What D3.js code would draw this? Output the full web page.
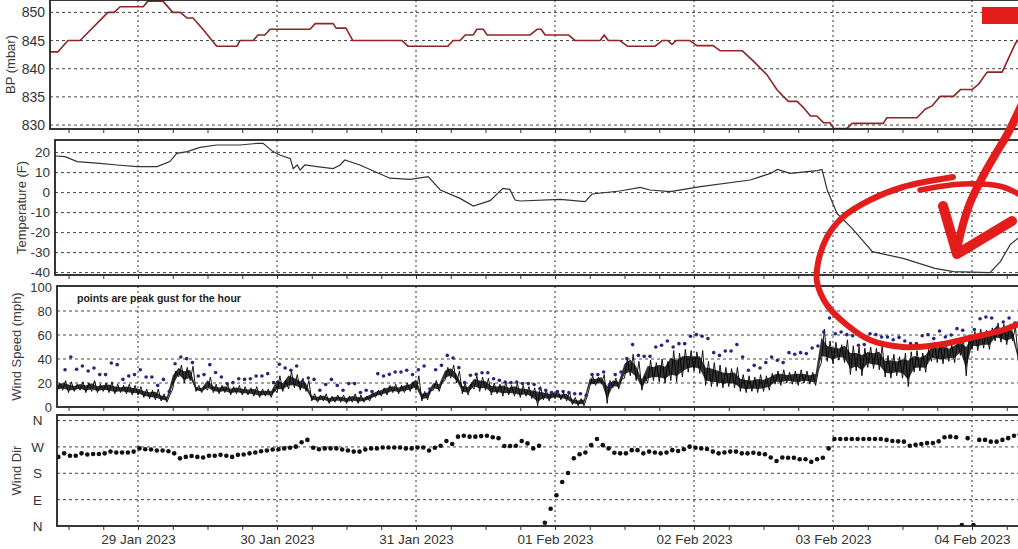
<!DOCTYPE html>
<html><head><meta charset="utf-8">
<script src="https://cdn.jsdelivr.net/npm/d3@7"></script>
<style>
body{margin:0;background:#fff}
svg{display:block;background:#fff}
text{font-family:Arial,"Liberation Sans",sans-serif}
</style>
</head><body>
<svg id="c" width="1018" height="549"></svg>
<script>
// ---------------- DATA (hours counted from 28 Jan 2023 00:00) ----------------
const dayLabels = ["29 Jan 2023","30 Jan 2023","31 Jan 2023","01 Feb 2023","02 Feb 2023","03 Feb 2023","04 Feb 2023"];
const dayHours  = [24,48,72,96,120,144,168];

const bpTicks = [830,835,840,845,850];
const tempTicks = [-40,-30,-20,-10,0,10,20];
const windTicks = [0,20,40,60,80,100];
const dirTicks = [0,90,180,270,360];
const dirLabels = ["N","E","S","W","N"];

const bpHours = [8.8,10.2,11.9,14.0,18.8,19.9,20.9,24.9,25.7,28.3,30.0,31.3,32.5,33.5,35.2,37.6,41.1,41.6,43.9,44.7,45.9,46.8,53.7,54.6,57.7,58.2,59.9,61.1,69.6,70.6,77.5,78.4,79.6,80.5,81.9,82.5,83.6,84.3,91.7,92.9,93.6,94.3,98.3,99.5,103.8,104.5,105.2,107.2,108.5,113.3,114.5,115.5,116.2,116.9,119.3,120.5,123.3,124.5,128.3,130.3,132.6,134.3,135.4,136.3,137.8,138.9,140.1,141.2,142.4,143.5,144.1,146.4,147.3,152.7,153.3,158.5,159.9,161.1,162.5,164.8,166.0,168.0,169.1,170.6,173.2,175.5,176.3];
const bpValues = [843,843,845,845,850,850,851,851,852,852,850,850,849,849,847,844,844,845,845,846,846,847,847,848,848,847.2,847.2,845,845,844,844,845,845,846,846,847,847,846,846,847,847,846,846,845,845,846,845,845,844,844,845,845,844.3,845,845,844.1,844.1,843.2,843.2,841.3,838.9,836.3,835.1,834.2,834.2,833.1,831.6,831.6,830.4,830.4,829.4,829.4,830.3,830.3,831.3,831.3,832.8,833.4,835.1,835.1,836.3,836.3,837.2,839.4,839.4,844.5,845.5];

const tempHours = [9.7,11.4,13.5,17.4,20.4,23.8,27.3,29.5,30.7,32.5,34.7,37.6,41.6,44.6,45.6,47.3,48.5,50.3,50.8,51.5,52.0,52.8,54.9,57.7,58.9,59.7,62.3,67.5,71.0,74.1,76.2,79.6,81.9,84.8,87.0,88.2,89.1,90.0,96.9,101.2,102.4,107.2,110.7,112.4,115.9,121.1,129.7,133.2,134.4,136.6,141.3,142.1,143.0,144.7,147.3,150.8,156.1,161.6,164.8,171.1,172.9,174.6,176.3];
const tempValues = [18.3,18,15.5,14.6,13.8,13,13,15.5,19.6,20.5,22.6,23.8,23.8,24.6,24.6,20.5,18.8,17,12,13.8,11.3,13.8,13,12,13.8,16.3,13.8,7.2,6.6,8,1.3,-2.9,-6.7,-4,2.1,1.6,-3.7,-4.2,-3.4,-4.5,-0.7,0.8,2.6,1.3,0.5,3,6.3,9.6,11.6,9.6,11,11.6,1.3,-10.4,-17.9,-29.5,-32.9,-37.9,-39.5,-40,-34.5,-26,-22];

// sustained wind: hourly lowest / highest reading of the trace, from hour 10
const windStartHour = 10;
const windHigh = [20,22,21,19,21,20,22,19,20,21,19,18,19,18,17, 15,14,15, 11,10, 30, 35,33,34, 18,17, 25,
  19,18,19,17,18,17,16,17,15,15, 15, 26,22,30,27,24,22, 11,10,11,9,10, 10,9,11,10,9,12,
  14,16,18,19,18,20,21,26, 13,14, 22,21, 33,35,30, 20,19, 26,25,24, 20,19,21,18,20, 18,17,16,17,
  14,13,14,12,13, 8,7,8, 26,25,27, 22, 24,23, 40,44,38, 26, 39,37,40,38, 47,45,48, 47,46,47,
  38,37,35, 33,32,33, 27,26,25,27,26,28, 30,31,29,30,31,30,29,31, 65, 55,54,52,56, 51,50,49,
  50,49,51, 43,44,42,45, 46,47,45,48, 54,53,55,52,56, 57,58, 63,65,64,66, 70,69, 68,67, 45];
const windLow = [13,14,12,13,14,12,13,12,13,12,11,12,11,10,10, 8,7,6, 5,4, 15, 25,20,22, 13,12, 14,
  12,11,12,10,11,10,10,9,8,9, 8, 12,13,15,16,14,13, 5,4,5,3,4, 4,3,4,3,4,5,
  8,9,10,12,11,12,13,14, 5,6, 14,13, 22,24,20, 11,10, 15,13,14, 10,11,9,10,9, 8,9,7,1,
  6,5,7,6,5, 2,1,1, 17,18,19, 3, 16,15, 24,26,22, 14, 20,22,21,20, 22,21,25, 29,30,28,
  18,17,17, 16,17,16, 13,12,13,12,13,14, 19,18,20,19,18,20,19,18, 37, 38,36,39,37, 27,30,26,
  33,32,31, 25,24,26,24, 17,29,30,29, 38,37,36,38,37, 43,26, 48,47,49,48, 55,54, 52,55, 38];

// hourly peak gust, from hour 11.4
const gustStartHour = 11.4;
const gustValues = [31,41.7,31.4,34.2,30,32.5,27,27,36.7,35.3,23,25.8,27,31,25,25,18,23,13,36,41.7,40.3,37,25.8,27,35.3,28.7,25,19.5,20.3,23.6,23,23.6,25.8,25.8,27.8,20.3,35.6,32.5,30.6,34.2,21.4,24.2,23,13.9,18.7,23,18,
  13.9,19.5,19.5,12,13.9,12.9,27.8,25.8,27.2,29.2,29.2,30.6,27,31,34.2,15,31,34.7,43,40.8,32.8,20.3,26.4,27.2,28.6,28.6,23.6,22.2,20.8,20.3,20.8,19.5,19.5,18.7,15.3,13.9,12,12.9,12.9,12,11.1,11.1,9.7,27,27,29.2,18.7,27,29.2,40.3,52,43,42.2,42.2,50,51.4,55,
  50,52.8,52.8,58.9,60.3,58.9,57,45.3,43,46.7,46.7,52,41.7,30.6,34.7,32.5,37,41.7,38.9,37,45.3,43.9,45.3,44.5,49.2,50.8,62.5,74.2,61.1,62.5,60.3,59.4,51.4,52,61.1,60.3,58.3,58.3,56,58,55,52.8,52.8,59.4,60.3,57,63.3,58.3,60,65.3,64,58.3,64.6,73.6,75,74.2,66.5,70.8,74.2,70,68];

// hourly wind direction (degrees), from hour 10.25
const dirStartHour = 10.25;
const dirValues = [236,248,240,240,248,244,246,246,248,254,251,251,251,254,265,262,261,258,258,255,248,231,236,239,236,234,240,240,243,240,236,243,244,248,251,255,258,261,262,265,267,271,286,294,267,262,265,265,265,
  261,258,254,254,261,265,265,268,268,268,268,265,265,268,268,258,267,274,290,280,305,308,305,305,307,308,303,300,273,273,274,290,282,265,274,11,59,105,150,181,231,245,251,276,297,276,265,250,248,248,259,259,248,254,251,248,251,
  259,256,262,271,267,265,263,254,248,251,254,254,248,248,250,247,245,234,222,234,233,233,228,228,219,228,233,265,297,297,297,297,297,297,297,297,297,294,290,289,288,274,277,280,283,283,289,303,305,303,3,300,3,294,294,288,288,294,300,308,313];

// ---------------- DRAWING ----------------
const svg = d3.select("#c");
const hd = h => new Date(Date.UTC(2023,0,28) + h*36e5);
const x = d3.scaleUtc().domain([hd(24), hd(48)]).range([138, 277]);
const RIGHT = 1040;
const gridCol = "#444", borderCol = "#222", textCol = "#333";

const panels = [
  {id:"bp", left:50, top:0, bottom:129, y:d3.scaleLinear().domain([829.3,852.2]).range([129,0]), ticks:bpTicks, labelX:45, title:"BP (mbar)", titleX:10, fs:14},
  {id:"temp", left:55, top:140, bottom:275, y:d3.scaleLinear().domain([-41.2,26.3]).range([275,140]), ticks:tempTicks, labelX:50, title:"Temperature (F)", titleX:21, fs:13.5},
  {id:"wind", left:57, top:286, bottom:407, y:d3.scaleLinear().domain([0,100]).range([407,287]), ticks:windTicks, labelX:52, title:"Wind Speed (mph)", titleX:16, fs:13},
  {id:"dir", left:57, top:415, bottom:526, y:d3.scaleLinear().domain([0,379]).range([526,415]), ticks:dirTicks, labelX:37.5, title:"Wind Dir", titleX:16, fs:13.5, labels:dirLabels}
];

const defs = svg.append("defs");
const sixHours = d3.range(6, 180, 6).map(hd);

panels.forEach(p => {
  defs.append("clipPath").attr("id","clip-"+p.id).append("rect")
    .attr("x",p.left).attr("y",p.top).attr("width",RIGHT-p.left).attr("height",p.bottom-p.top);
  const g = svg.append("g");
  const inner = g.append("g").attr("clip-path","url(#clip-"+p.id+")");

  inner.selectAll("line.h").data(p.ticks.filter(t => p.y(t) > p.top+1.5 && p.y(t) < p.bottom-1.5)).join("line")
    .attr("x1",p.left).attr("x2",RIGHT).attr("y1",d=>p.y(d)).attr("y2",d=>p.y(d))
    .attr("stroke",gridCol).attr("stroke-width",1).attr("stroke-dasharray","3,3");
  inner.selectAll("line.v").data(dayHours).join("line")
    .attr("x1",d=>x(hd(d))).attr("x2",d=>x(hd(d))).attr("y1",p.top).attr("y2",p.bottom)
    .attr("stroke","#333").attr("stroke-width",1).attr("stroke-dasharray","2,3");

  const line = d3.line().x(d=>x(hd(d[0]))).y(d=>p.y(d[1]));
  if (p.id === "bp") {
    inner.append("path").datum(bpHours.map((h,i)=>[h,bpValues[i]]))
      .attr("d",line).attr("fill","none").attr("stroke","#8e2424").attr("stroke-width",1.6).attr("stroke-linejoin","round");
  }
  if (p.id === "temp") {
    inner.append("path").datum(tempHours.map((h,i)=>[h,tempValues[i]]))
      .attr("d",line).attr("fill","none").attr("stroke","#333").attr("stroke-width",1.2);
  }
  if (p.id === "wind") {
    const band = windHigh.map((hi,i)=>({h:windStartHour+i, lo:windLow[i], hi:hi}));
    const area = d3.area().x(d=>x(hd(d.h))).y0(d=>p.y(d.lo + (d.hi-d.lo)*0.2)).y1(d=>p.y(d.hi - (d.hi-d.lo)*0.25));
    inner.append("path").datum(band).attr("d",area).attr("fill","#000").attr("opacity",0.8);
    const pts = [];
    band.forEach(d=>{ pts.push([d.h, d.lo]); pts.push([d.h+0.5, d.hi]); });
    inner.append("path").datum(pts).attr("d",line).attr("fill","none").attr("stroke","#000").attr("stroke-width",0.9);
    inner.selectAll("circle").data(gustValues).join("circle")
      .attr("cx",(d,i)=>x(hd(gustStartHour+i))).attr("cy",d=>p.y(d)).attr("r",1.8).attr("fill","#26267a");
    g.append("text").attr("x",77).attr("y",302).attr("font-size",10.5).attr("font-weight","bold")
      .attr("fill","#222").text("points are peak gust for the hour");
  }
  if (p.id === "dir") {
    inner.selectAll("circle").data(dirValues).join("circle")
      .attr("cx",(d,i)=>x(hd(dirStartHour+i))).attr("cy",d=>p.y(d)).attr("r",2.3).attr("fill","#111");
  }

  g.append("rect").attr("x",p.left).attr("y",p.top).attr("width",RIGHT-p.left).attr("height",p.bottom-p.top)
    .attr("fill","none").attr("stroke",borderCol).attr("stroke-width",1.8);

  const ax = d3.axisBottom(x).tickValues(sixHours).tickSize(4).tickFormat("");
  const axG = g.append("g").attr("transform","translate(0,"+p.bottom+")").call(ax);
  axG.select(".domain").remove();
  axG.selectAll("line").attr("stroke","#333");
  axG.selectAll(".tick").filter(d => x(d) < p.left + 2).remove();

  const yl = g.append("g");
  yl.selectAll("text").data(p.ticks).join("text")
    .attr("x",p.labelX).attr("y",d=>p.y(d)).attr("dy","0.36em")
    .attr("text-anchor", p.labels ? "middle" : "end")
    .attr("font-size",p.fs).attr("fill",textCol)
    .text((d,i)=> p.labels ? p.labels[i] : d);

  const cy = (p.top+p.bottom)/2;
  g.append("text").attr("transform","translate("+p.titleX+","+cy+") rotate(-90)")
    .attr("text-anchor","middle").attr("dy","0.36em").attr("font-size",13).attr("fill","#3a3a3a").text(p.title);
});

const xAxis = d3.axisBottom(x).tickValues(dayHours.map(hd)).tickSize(0).tickPadding(0)
  .tickFormat((d,i)=>dayLabels[i]);
const xg = svg.append("g").attr("transform","translate(0,534)").call(xAxis);
xg.select(".domain").remove();
xg.selectAll("text").attr("font-size",13.5).attr("fill",textCol).attr("font-family","Arial,'Liberation Sans',sans-serif");

// ---------------- RED ANNOTATION ----------------
const red = "#e31c1c";
const ann = svg.append("g").attr("fill","none").attr("stroke",red).attr("stroke-linecap","round").attr("stroke-linejoin","round");
svg.append("rect").attr("x",982).attr("y",7).attr("width",40).attr("height",17).attr("fill",red);
const curve = d3.line().curve(d3.curveCatmullRom.alpha(0.5));
ann.append("path").attr("stroke-width",6).attr("d", curve([[953,177],[903,187],[870,200],[843,217],[827,237],[818,263],[817,282],[827,305],[847,325],[870,340],[903,347],[937,345],[970,338],[1003,330],[1028,320]]));
ann.append("path").attr("stroke-width",5.5).attr("d", curve([[920,190],[963,184],[1003,187],[1028,200]]));
ann.append("path").attr("stroke-width",8).attr("d", curve([[1022,104],[1008,133],[995,155],[982,178],[970,203],[962,228],[957,250]]));
ann.append("path").attr("stroke-width",10).attr("d","M943,206 L957,254 L1012,221");
</script>
</body></html>
